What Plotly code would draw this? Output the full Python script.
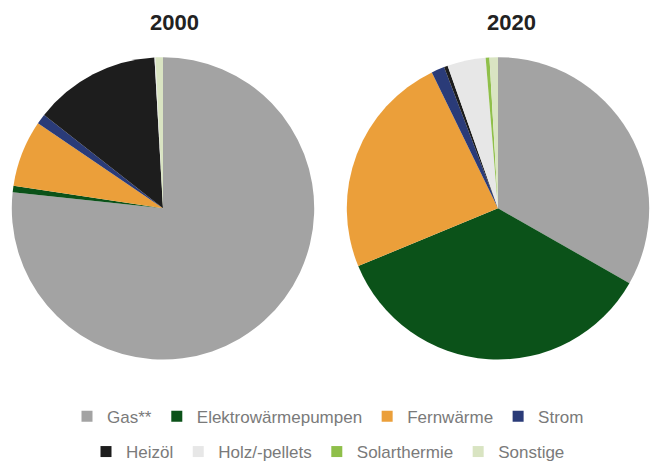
import plotly.graph_objects as go

labels = ["Gas**", "Elektrowärmepumpen", "Fernwärme", "Strom",
          "Heizöl", "Holz/-pellets", "Solarthermie", "Sonstige"]
values_2000 = [76.7, 0.7, 7.1, 1.1, 13.5, 0.1, 0.0, 0.8]
values_2020 = [33.2, 35.5, 24.0, 1.4, 0.4, 4.1, 0.4, 0.9]
colors = ["#a3a3a3", "#0b5219", "#eb9f3a", "#2a3b78",
          "#1d1d1d", "#e7e7e7", "#8fbf4a", "#d9e4c2"]
years = ["2000", "2020"]

W, H = 651, 470

def px_x(v):
    return v / W

def px_y(v):
    return 1 - v / H

fig = go.Figure()

pie_boxes = [(9.5, 316.5), (345, 651)]
for vals, (x0, x1) in zip([values_2000, values_2020], pie_boxes):
    fig.add_trace(go.Pie(
        labels=labels, values=vals, sort=False, direction="clockwise",
        rotation=0, marker=dict(colors=colors, line=dict(width=0)),
        textinfo="none", hoverinfo="label+percent", showlegend=False,
        domain=dict(x=[px_x(x0), px_x(x1)], y=[px_y(365), px_y(58)]),
    ))

for i, (lab, col) in enumerate(zip(labels, colors)):
    fig.add_trace(go.Scatter(
        x=[None], y=[None], mode="markers", name=lab,
        marker=dict(symbol="square", size=11, color=col),
        legend="legend" if i < 4 else "legend2", hoverinfo="skip",
    ))

legend_font = dict(family="Liberation Sans, Arial, sans-serif", size=17, color="#7a7a7a")
title_font = dict(family="Liberation Sans, Arial, sans-serif", size=22, color="#222222")
fig.update_layout(
    width=W, height=H,
    margin=dict(l=0, r=0, t=0, b=0),
    paper_bgcolor="white", plot_bgcolor="white",
    xaxis=dict(visible=False), yaxis=dict(visible=False),
    legend=dict(orientation="h", x=px_x(328), xanchor="center",
                y=px_y(423), yanchor="middle", font=legend_font,
                bgcolor="rgba(0,0,0,0)", itemwidth=30),
    legend2=dict(orientation="h", x=px_x(328), xanchor="center",
                 y=px_y(459), yanchor="middle", font=legend_font,
                 bgcolor="rgba(0,0,0,0)", itemwidth=30),
    annotations=[
        dict(text="<b>%s</b>" % years[0], x=px_x(174), y=px_y(23), xref="paper", yref="paper",
             showarrow=False, xanchor="center", yanchor="middle", font=title_font),
        dict(text="<b>%s</b>" % years[1], x=px_x(511), y=px_y(23), xref="paper", yref="paper",
             showarrow=False, xanchor="center", yanchor="middle", font=title_font),
    ],
)

fig.write_html("out.html")
